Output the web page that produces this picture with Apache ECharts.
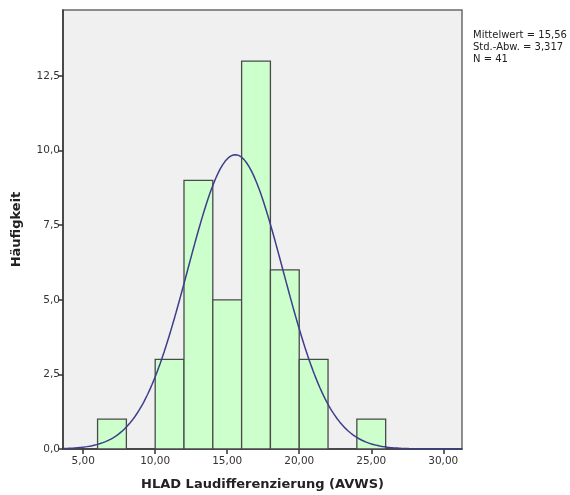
<!DOCTYPE html>
<html>
<head>
<meta charset="utf-8">
<script src="https://cdn.jsdelivr.net/npm/echarts@6/dist/echarts.min.js"></script>
<style>
  html, body { margin: 0; padding: 0; background: #ffffff; }
  #chart { width: 570px; height: 495px; }
</style>
</head>
<body>
<div id="chart"></div>
<script>
// Histogram bins (lower edge, upper edge) and frequencies
const binStarts = [6, 8, 10, 12, 14, 16, 18, 20, 22, 24];
const binEnds   = [8, 10, 12, 14, 16, 18, 20, 22, 24, 26];
const counts    = [1, 0, 3, 9, 5, 13, 6, 3, 0, 1];

// Summary statistics shown beside the plot
const mean = 15.56;
const stdDev = 3.317;
const n = 41;

// Axis tick positions
const xTicks = [5, 10, 15, 20, 25, 30];
const yTicks = [0, 2.5, 5, 7.5, 10, 12.5];

const xMin = 3.6, xMax = 31.3;
const yMin = 0, yMax = 14.71;

// Normal curve fitted to the data, scaled to bin width * N
const binWidth = 2;
const curve = [];
for (let i = 0; i <= 300; i++) {
  const x = xMin + (xMax - xMin) * i / 300;
  const z = (x - mean) / stdDev;
  const y = n * binWidth * Math.exp(-0.5 * z * z) / (stdDev * Math.sqrt(2 * Math.PI));
  curve.push([x, y]);
}

const bars = binStarts.map((s, i) => [s, binEnds[i], counts[i]]).filter(d => d[2] > 0);

const fmt = (v, d) => v.toFixed(d).replace('.', ',');
const font = '"DejaVu Sans", Verdana, sans-serif';

const chart = echarts.init(document.getElementById('chart'), null, { renderer: 'canvas' });
chart.setOption({
  animation: false,
  backgroundColor: '#ffffff',
  grid: {
    left: 63, top: 10, right: 108, bottom: 46,
    outerBoundsMode: 'none',
    containLabel: false,
    show: true, backgroundColor: '#f0f0f0', borderColor: '#6a6a6a', borderWidth: 1.5
  },
  xAxis: {
    type: 'value', min: xMin, max: xMax,
    name: 'HLAD Laudifferenzierung (AVWS)',
    nameLocation: 'middle', nameGap: 29,
    nameTextStyle: { fontFamily: font, fontWeight: 'bold', fontSize: 13, color: '#222' },
    splitLine: { show: false },
    axisLine: { show: true, onZero: false, lineStyle: { color: '#333', width: 1.5 } },
    axisTick: { show: true, length: 5, customValues: xTicks, lineStyle: { color: '#333', width: 1.5 } },
    axisLabel: {
      customValues: xTicks, margin: 7,
      formatter: v => fmt(v, 2),
      fontFamily: font, fontSize: 10.5, color: '#333'
    }
  },
  yAxis: {
    type: 'value', min: yMin, max: yMax,
    name: 'Häufigkeit',
    nameLocation: 'middle', nameGap: 40,
    nameTextStyle: { fontFamily: font, fontWeight: 'bold', fontSize: 13, color: '#222' },
    splitLine: { show: false },
    axisLine: { show: true, lineStyle: { color: '#333', width: 1.5 } },
    axisTick: { show: true, length: 5, customValues: yTicks, lineStyle: { color: '#333', width: 1.5 } },
    axisLabel: {
      customValues: yTicks, margin: 3,
      formatter: v => fmt(v, 1),
      fontFamily: font, fontSize: 10.5, color: '#333'
    }
  },
  graphic: [{
    type: 'text', left: 473, top: 30,
    style: {
      text: 'Mittelwert = ' + fmt(mean, 2) + '\nStd.-Abw. = ' + fmt(stdDev, 3) + '\nN = ' + n,
      font: '10px ' + font, fill: '#222', lineHeight: 11.7
    }
  }],
  series: [
    {
      type: 'custom',
      data: bars,
      encode: { x: [0, 1], y: 2 },
      renderItem: (params, api) => {
        const p0 = api.coord([api.value(0), api.value(2)]);
        const p1 = api.coord([api.value(1), 0]);
        return {
          type: 'rect',
          shape: { x: p0[0], y: p0[1], width: p1[0] - p0[0], height: p1[1] - p0[1] },
          style: { fill: '#ccffcc', stroke: '#4a4a4a', lineWidth: 1.3 }
        };
      }
    },
    {
      type: 'line',
      data: curve,
      showSymbol: false,
      smooth: false,
      lineStyle: { color: '#3d3d8c', width: 1.5 },
      z: 5
    }
  ]
});
</script>
</body>
</html>
